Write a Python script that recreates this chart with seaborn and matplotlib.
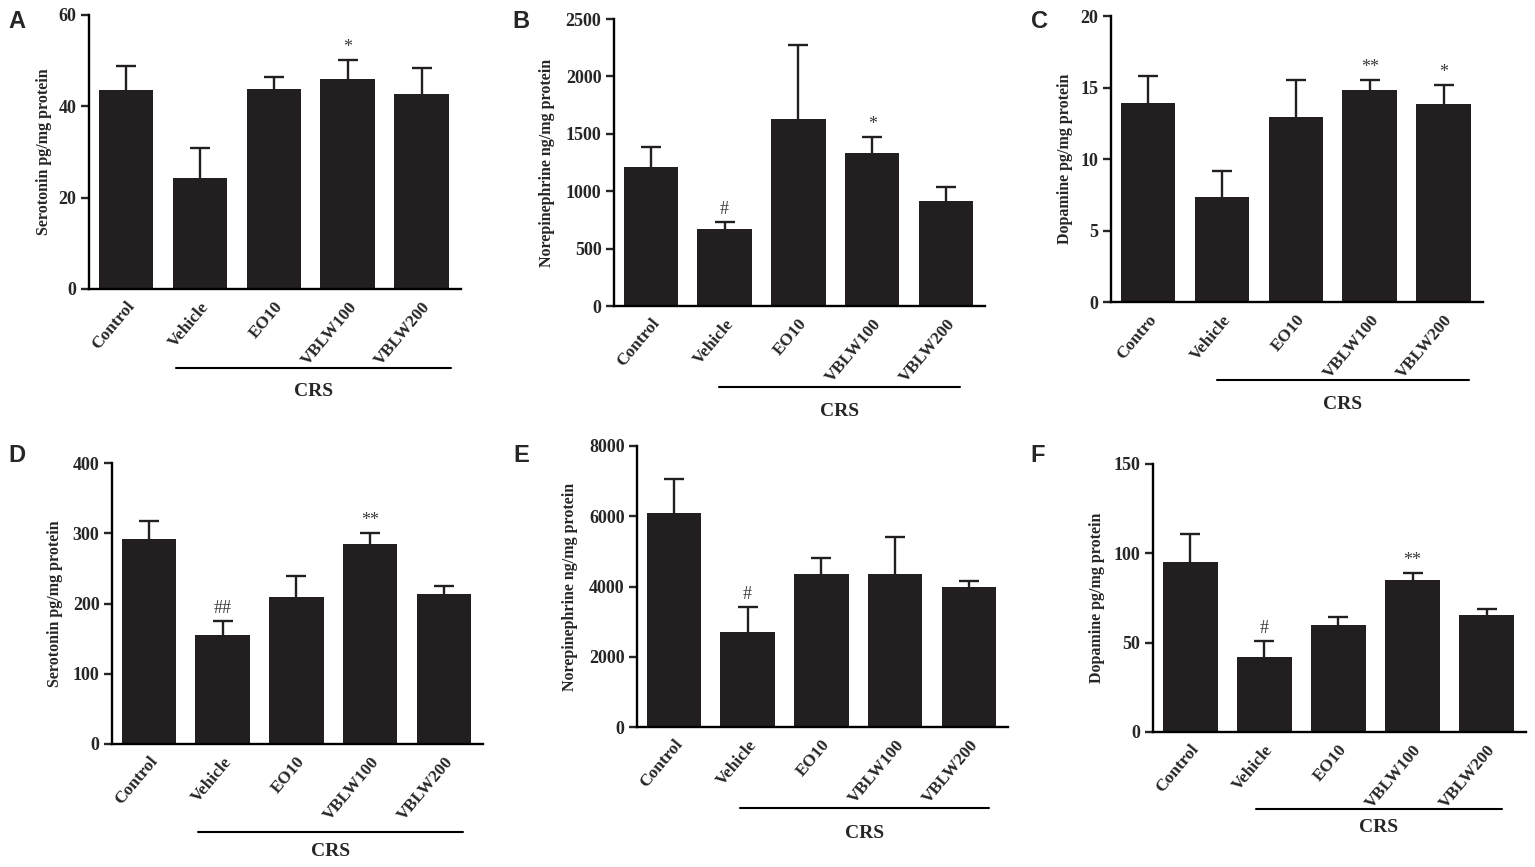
import numpy as np
import pandas as pd
import matplotlib
matplotlib.use("Agg")
import matplotlib.pyplot as plt
import seaborn as sns

# groups on the x axis (panel C label is cut off in the original)
groups = ["Control", "Vehicle", "EO10", "VBLW100", "VBLW200"]
groups_c = ["Contro", "Vehicle", "EO10", "VBLW100", "VBLW200"]

# A - serotonin
a_mean = [43.5, 24.4, 43.7, 46.0, 42.6]
a_sem = [5.3, 6.4, 2.7, 4.1, 5.9]
a_sig = ["", "", "", "*", ""]

# B - norepinephrine
b_mean = [1213, 668, 1629, 1330, 915]
b_sem = [175, 64, 645, 139, 122]
b_sig = ["", "#", "", "*", ""]

# C - dopamine
c_mean = [13.94, 7.34, 12.94, 14.8, 13.83]
c_sem = [1.86, 1.85, 2.56, 0.7, 1.34]
c_sig = ["", "", "", "**", "*"]

# D - serotonin
d_mean = [292, 154.6, 208.7, 285, 213.5]
d_sem = [26, 20, 30, 15.3, 10.9]
d_sig = ["", "##", "", "**", ""]

# E - norepinephrine
e_mean = [6100, 2708, 4344, 4360, 3973]
e_sem = [961, 696, 456, 1039, 181]
e_sig = ["", "#", "", "", ""]

# F - dopamine
f_mean = [95.3, 42, 60, 85, 65.5]
f_sem = [15.7, 9.1, 4.5, 3.8, 3.5]
f_sig = ["", "#", "", "**", ""]

y_labels = ["Serotonin pg/mg protein", "Norepinephrine ng/mg protein", "Dopamine pg/mg protein",
            "Serotonin pg/mg protein", "Norepinephrine ng/mg protein", "Dopamine pg/mg protein"]
y_ticks = [[0, 20, 40, 60], [0, 500, 1000, 1500, 2000, 2500], [0, 5, 10, 15, 20],
           [0, 100, 200, 300, 400], [0, 2000, 4000, 6000, 8000], [0, 50, 100, 150]]

# layout in pixels: axes box (left, right, top, bottom), ylabel right edge,
# CRS line x-range (data units), CRS line y, CRS text y, panel letter (x, y)
layout = [
    dict(box=(89, 461, 15, 289), ylab=52, crs=(0.68, 4.4), ly=368, ty=392, letter=("A", 8, 10)),
    dict(box=(614, 985, 19, 306), ylab=555, crs=(0.92, 4.19), ly=387, ty=411, letter=("B", 512, 10)),
    dict(box=(1111, 1483, 16, 302), ylab=1073, crs=(0.93, 4.34), ly=380, ty=404, letter=("C", 1031, 10)),
    dict(box=(112, 483, 463, 744), ylab=63, crs=(0.66, 4.26), ly=832, ty=852, letter=("D", 8, 444)),
    dict(box=(637, 1008, 446, 727), ylab=578, crs=(0.89, 4.27), ly=808, ty=833, letter=("E", 513, 444)),
    dict(box=(1153, 1526, 464, 732), ylab=1105, crs=(0.89, 4.2), ly=809, ty=828, letter=("F", 1030, 444)),
]

panels = [(groups, a_mean, a_sem, a_sig), (groups, b_mean, b_sem, b_sig), (groups_c, c_mean, c_sem, c_sig),
          (groups, d_mean, d_sem, d_sig), (groups, e_mean, e_sem, e_sig), (groups, f_mean, f_sem, f_sig)]

sns.set_style("ticks")
plt.rcParams["font.family"] = ["Liberation Serif", "DejaVu Serif"]
plt.rcParams["font.weight"] = "bold"
plt.rcParams["axes.labelweight"] = "bold"

BAR = "#231f20"
W, H = 1535, 867
fig = plt.figure(figsize=(W / 100, H / 100), dpi=100)

for i, (labels, mean, sem, sig) in enumerate(panels):
    lay = layout[i]
    l, r, t, b = lay["box"]
    ax = fig.add_axes([l / W, 1 - b / H, (r - l) / W, (b - t) / H])
    df = pd.DataFrame({"group": labels, "value": mean})
    sns.barplot(data=df, x="group", y="value", color=BAR, saturation=1, width=0.74,
                errorbar=None, edgecolor=BAR, linewidth=0, ax=ax)
    pos = np.arange(len(labels))
    eb = ax.errorbar(pos, mean, yerr=[np.zeros(len(sem)), sem], fmt="none", ecolor=BAR,
                     elinewidth=1.7, capsize=7, capthick=1.7, zorder=3)
    # only the upper cap is drawn in the original
    eb[1][0].set_visible(False)
    for x, m, s, lab in zip(pos, mean, sem, sig):
        if lab:
            ax.annotate(lab, (x, m + s), xytext=(0, 3), textcoords="offset points",
                        ha="center", va="bottom", fontsize=13, fontweight="normal", color="#3a3a3a")

    ax.set_xlim(-0.5, 4.53)
    ax.set_ylim(0, y_ticks[i][-1])
    ax.set_yticks(y_ticks[i])
    ax.set_xticks(pos)
    ax.set_xticklabels(labels, rotation=50, ha="right", va="top", rotation_mode="anchor", fontsize=12.5)
    ax.tick_params(axis="x", length=0, pad=7)
    ax.tick_params(axis="y", length=6, width=1.7, labelsize=13, pad=3)
    ax.set_xlabel("")
    ax.set_ylabel(y_labels[i], fontsize=11.5)
    ax.yaxis.set_label_coords((lay["ylab"] - l) / (r - l), 0.5)
    sns.despine(ax=ax)
    for sp in ("left", "bottom"):
        ax.spines[sp].set_linewidth(1.7)
        ax.spines[sp].set_color("black")

    # CRS bracket under the treated groups
    x0, x1 = lay["crs"]
    hpx = b - t
    ax.plot([x0, x1], [(b - lay["ly"]) / hpx] * 2, transform=ax.get_xaxis_transform(),
            color="black", lw=1.5, clip_on=False)
    ax.text((x0 + x1) / 2, (b - lay["ty"]) / hpx, "CRS", transform=ax.get_xaxis_transform(),
            ha="center", va="center", fontsize=14, fontweight="bold")

    letter, lx, ly = lay["letter"]
    fig.text(lx / W, 1 - ly / H, letter, ha="left", va="top", fontsize=17,
             fontweight="bold", family="Liberation Sans")

fig.savefig("out.png", dpi=100)
